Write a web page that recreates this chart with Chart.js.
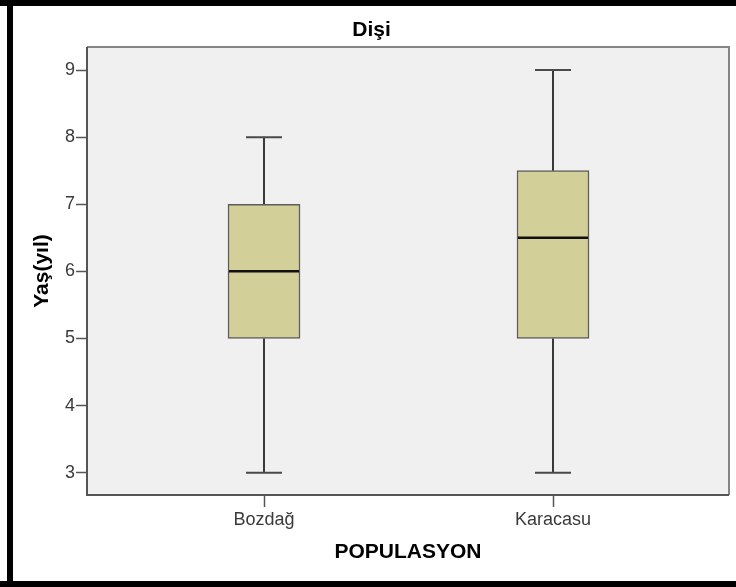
<!DOCTYPE html>
<html>
<head>
<meta charset="utf-8">
<script src="https://cdn.jsdelivr.net/npm/chart.js@4/dist/chart.umd.min.js"></script>
<style>
  html, body { margin: 0; padding: 0; background: #fff; }
  #wrap { position: relative; width: 736px; height: 587px; }
</style>
</head>
<body>
<div id="wrap"><canvas id="c" width="736" height="587"></canvas></div>
<script>
// Age (years) of females by population: five-number summaries
const categories = ['Bozdağ', 'Karacasu'];
const minimums  = [3, 3];
const quartile1 = [5, 5];
const medians   = [6, 6.5];
const quartile3 = [7, 7.5];
const maximums  = [8, 9];
const yTicks    = [3, 4, 5, 6, 7, 8, 9];

const FONT = "'Liberation Sans', Arial, sans-serif";

// Page frame, plot background and plot border
const framePlugin = {
  id: 'frame',
  beforeDraw(chart) {
    const { ctx, chartArea: a, width, height } = chart;
    ctx.save();
    ctx.fillStyle = '#ffffff';
    ctx.fillRect(0, 0, width, height);
    ctx.fillStyle = '#000000';
    ctx.fillRect(0, 0, width, 6);
    ctx.fillRect(7, 0, 6, height);
    ctx.fillRect(0, height - 6, width, 6);
    ctx.fillStyle = '#f0f0f0';
    ctx.fillRect(a.left, a.top, a.right - a.left, a.bottom - a.top);
    ctx.restore();
  },
  afterDraw(chart) {
    const { ctx, chartArea: a } = chart;
    ctx.save();
    ctx.lineWidth = 2;
    ctx.strokeStyle = '#858585';
    ctx.beginPath();
    ctx.moveTo(a.left, a.top); ctx.lineTo(a.right, a.top); ctx.lineTo(a.right, a.bottom);
    ctx.stroke();
    ctx.strokeStyle = '#555555';
    ctx.beginPath();
    ctx.moveTo(a.left, a.top); ctx.lineTo(a.left, a.bottom); ctx.lineTo(a.right, a.bottom);
    ctx.stroke();
    ctx.restore();
  }
};

// Whiskers, caps and median lines
const boxPlugin = {
  id: 'boxWhiskers',
  afterDatasetsDraw(chart) {
    const { ctx } = chart;
    const xs = chart.scales.x, ys = chart.scales.y;
    ctx.save();
    categories.forEach((c, i) => {
      const x = Math.round(xs.getPixelForValue(i));
      const yMin = ys.getPixelForValue(minimums[i]);
      const yQ1 = ys.getPixelForValue(quartile1[i]);
      const yQ3 = ys.getPixelForValue(quartile3[i]);
      const yMax = ys.getPixelForValue(maximums[i]);
      const yMed = ys.getPixelForValue(medians[i]);
      ctx.strokeStyle = '#3a3a3a';
      ctx.lineWidth = 2;
      ctx.beginPath();
      ctx.moveTo(x, yMin); ctx.lineTo(x, yQ1);
      ctx.moveTo(x, yQ3); ctx.lineTo(x, yMax);
      ctx.stroke();
      ctx.strokeStyle = '#4a4a4a';
      ctx.beginPath();
      ctx.moveTo(x - 18, yMin); ctx.lineTo(x + 18, yMin);
      ctx.moveTo(x - 18, yMax); ctx.lineTo(x + 18, yMax);
      ctx.stroke();
      ctx.strokeStyle = '#111111';
      ctx.lineWidth = 2.5;
      ctx.beginPath();
      ctx.moveTo(x - 35, yMed); ctx.lineTo(x + 35, yMed);
      ctx.stroke();
    });
    ctx.restore();
  }
};

new Chart(document.getElementById('c'), {
  type: 'bar',
  data: {
    datasets: [{
      data: categories.map((c, i) => ({ x: i, y: [quartile1[i], quartile3[i]] })),
      backgroundColor: '#d3cf98',
      borderColor: '#5c5c5c',
      borderWidth: 1.5,
      borderSkipped: false,
      barThickness: 72
    }]
  },
  options: {
    responsive: false,
    animation: false,
    events: [],
    layout: { padding: { left: 14, right: 7, top: 0, bottom: 0 } },
    plugins: {
      legend: { display: false },
      tooltip: { enabled: false },
      title: {
        display: true,
        text: 'Dişi',
        color: '#000',
        font: { family: FONT, size: 21, weight: 'bold' },
        padding: { top: 18, bottom: 3.8 }
      }
    },
    scales: {
      x: {
        type: 'linear',
        position: 'bottom',
        min: -0.6125,
        max: 1.609,
        offset: false,
        afterBuildTicks(scale) { scale.ticks = categories.map((c, i) => ({ value: i })); },
        afterFit(scale) { scale.height = 92; },
        grid: { offset: false, drawOnChartArea: false, drawTicks: true, tickLength: 12, tickColor: '#555', tickWidth: 1.5, color: '#555' },
        border: { display: false },
        ticks: {
          padding: 2,
          color: '#3a3a3a',
          font: { family: FONT, size: 18 },
          maxRotation: 0,
          callback: (v) => categories[v] ?? ''
        },
        title: {
          display: true,
          text: 'POPULASYON',
          color: '#000',
          font: { family: FONT, size: 21, weight: 'bold' },
          padding: { top: 0, bottom: 22 }
        }
      },
      y: {
        min: 2.668,
        max: 9.343,
        afterBuildTicks(scale) { scale.ticks = yTicks.map(v => ({ value: v })); },
        afterFit(scale) { scale.width = 73; },
        grid: { drawOnChartArea: false, drawTicks: true, tickLength: 11, tickColor: '#555', tickWidth: 1.5, color: '#555' },
        border: { display: false },
        ticks: {
          padding: 1,
          color: '#3a3a3a',
          font: { family: FONT, size: 18 }
        },
        title: {
          display: true,
          text: 'Yaş(yıl)',
          color: '#000',
          font: { family: FONT, size: 21, weight: 'bold' },
          padding: { top: 15.4, bottom: 0 }
        }
      }
    }
  },
  plugins: [framePlugin, boxPlugin]
});
</script>
</body>
</html>
